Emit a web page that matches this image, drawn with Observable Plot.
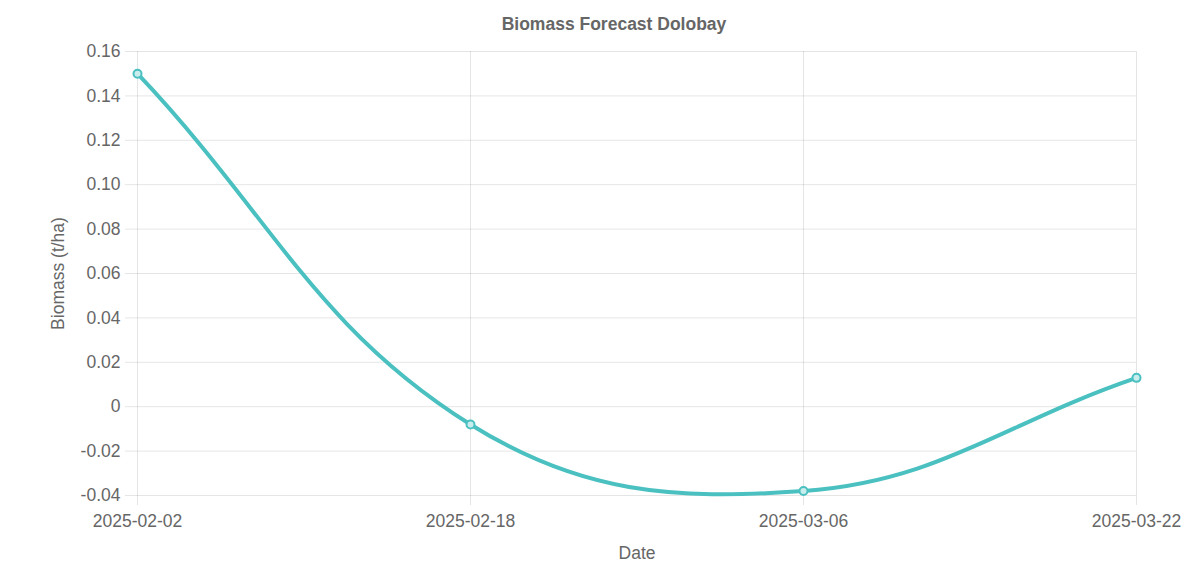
<!DOCTYPE html>
<html>
<head>
<meta charset="utf-8">
<script src="https://cdn.jsdelivr.net/npm/d3@7"></script>
<script src="https://cdn.jsdelivr.net/npm/@observablehq/plot@0.6"></script>
<style>
  html, body { margin: 0; padding: 0; background: #fff; }
  body { width: 1204px; height: 571px; overflow: hidden; position: relative; font-family: "Liberation Sans", Arial, Helvetica, sans-serif; }
  #title { position: absolute; left: 0; top: 0; width: 1228px; height: 40px; line-height: 48px; text-align: center; font-weight: bold; font-size: 17.5px; color: #666; }
  #dash { position: absolute; left: 16px; top: 52px; width: 7px; height: 1px; background: #bbb; }
  #chart { position: absolute; left: 0; top: 40px; }
</style>
</head>
<body>
<div id="title">Biomass Forecast Dolobay</div>
<div id="dash"></div>
<div id="chart"></div>
<script>
const dates = ["2025-02-02", "2025-02-18", "2025-03-06", "2025-03-22"];
const biomass = [0.15, -0.008, -0.038, 0.013];
const yTicks = [-0.04, -0.02, 0, 0.02, 0.04, 0.06, 0.08, 0.10, 0.12, 0.14, 0.16];

const parse = d3.utcParse("%Y-%m-%d");
const data = dates.map((d, i) => ({date: parse(d), value: biomass[i]}));
const xTicks = dates.map(parse);
const fmtDate = d3.utcFormat("%Y-%m-%d");
const fmtY = v => Math.abs(v) < 1e-9 ? "0" : v.toFixed(2);

// Tension-based spline (tension 0.4), drawn as cubic Béziers between points.
function splineCurve(context) {
  const T = 0.4;
  let pts = [];
  return {
    areaStart() {}, areaEnd() {},
    lineStart() { pts = []; },
    point(x, y) { pts.push([+x, +y]); },
    lineEnd() {
      const n = pts.length;
      if (!n) return;
      const cps = pts.map((p, i) => {
        const prev = pts[i - 1] || p, next = pts[Math.min(i + 1, n - 1)];
        const d01 = Math.hypot(p[0] - prev[0], p[1] - prev[1]);
        const d12 = Math.hypot(next[0] - p[0], next[1] - p[1]);
        let s01 = d01 / (d01 + d12), s12 = d12 / (d01 + d12);
        if (!isFinite(s01)) s01 = 0; if (!isFinite(s12)) s12 = 0;
        const fa = T * s01, fb = T * s12;
        return {
          prev: [p[0] - fa * (next[0] - prev[0]), p[1] - fa * (next[1] - prev[1])],
          next: [p[0] + fb * (next[0] - prev[0]), p[1] + fb * (next[1] - prev[1])]
        };
      });
      context.moveTo(pts[0][0], pts[0][1]);
      for (let i = 1; i < n; i++) {
        const a = cps[i - 1].next, b = cps[i].prev;
        context.bezierCurveTo(a[0], a[1], b[0], b[1], pts[i][0], pts[i][1]);
      }
    }
  };
}

const chart = Plot.plot({
  width: 1204,
  height: 531,
  marginTop: 11,
  marginBottom: 76,
  marginLeft: 137,
  marginRight: 68,
  style: {fontFamily: "Liberation Sans, Arial, Helvetica, sans-serif", fontSize: "17.5px", color: "#666", background: "#fff"},
  x: {type: "utc", domain: [xTicks[0], xTicks[xTicks.length - 1]]},
  y: {domain: [-0.04, 0.16]},
  marks: [
    Plot.gridX(xTicks, {stroke: "#000", strokeOpacity: 0.1, strokeWidth: 1}),
    Plot.gridY(yTicks, {stroke: "#000", strokeOpacity: 0.1, strokeWidth: 1}),
    Plot.axisX({ticks: xTicks, tickFormat: fmtDate, tickSize: 10, tickPadding: 9, stroke: "#000", strokeOpacity: 0.1, fill: "#666", fillOpacity: 1,
      label: "Date", labelAnchor: "center", labelArrow: "none", labelOffset: 63}),
    Plot.axisY({ticks: yTicks, tickFormat: fmtY, tickSize: 12, tickPadding: 5, stroke: "#000", strokeOpacity: 0.1, fill: "#666", fillOpacity: 1,
      label: "Biomass (t/ha)", labelAnchor: "center", labelArrow: "none", labelOffset: 86}),
    Plot.line(data, {x: "date", y: "value", curve: splineCurve, stroke: "#4bc0c0", strokeWidth: 4}),
    Plot.dot(data, {x: "date", y: "value", r: 4, fill: "#c9eded", stroke: "#4bc0c0", strokeWidth: 2})
  ]
});
document.getElementById("chart").appendChild(chart);
</script>
</body>
</html>
